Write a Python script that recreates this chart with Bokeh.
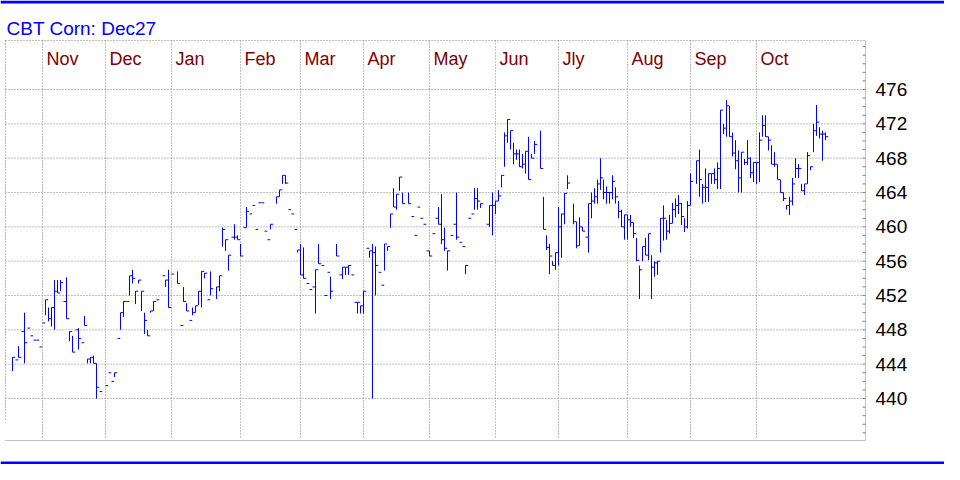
from bokeh.plotting import figure
from bokeh.models import Range1d
from bokeh.embed import file_html
from bokeh.resources import INLINE
from bokeh.core.properties import value

title_text = "CBT Corn: Dec27"
month_labels = ["Nov", "Dec", "Jan", "Feb", "Mar", "Apr", "May", "Jun", "Jly", "Aug", "Sep", "Oct"]
month_start_index = [10, 31, 53, 76, 96, 117, 139, 161, 182, 205, 226, 248]
price_ticks = [440, 444, 448, 452, 456, 460, 464, 468, 472, 476]
minor_price_ticks = list(range(436, 482))

# trading-day index, high, low, close (flat bars have high == low == close)
bar_index = [0, 1, 2, 3, 4, 5, 6, 7, 8, 9, 10, 11, 12, 13, 14, 15, 16, 17, 18, 19,
             20, 21, 22, 23, 24, 25, 26, 27, 28, 29, 31, 32, 33, 34, 35, 36, 37, 38, 39, 40,
             41, 42, 43, 44, 45, 46, 47, 48, 50, 51, 52, 53, 55, 56, 57, 58, 59, 60, 61, 62,
             63, 64, 65, 66, 68, 69, 70, 71, 72, 73, 74, 75, 76, 77, 78, 79, 80, 81, 82, 83,
             84, 85, 86, 88, 89, 90, 91, 92, 93, 94, 95, 96, 97, 98, 99, 100, 101, 102, 103, 104,
             105, 106, 108, 109, 110, 111, 112, 113, 114, 115, 116, 117, 118, 119, 120, 121, 122, 123, 124, 125,
             126, 127, 128, 129, 130, 132, 133, 134, 135, 136, 137, 138, 139, 140, 141, 142, 143, 144, 145, 146,
             147, 148, 149, 150, 151, 152, 153, 154, 155, 156, 158, 159, 160, 161, 162, 163, 164, 165, 166, 167,
             168, 169, 170, 171, 172, 173, 174, 176, 177, 178, 179, 180, 181, 182, 183, 184, 185, 187, 188, 189,
             190, 191, 192, 193, 194, 195, 196, 197, 198, 199, 200, 201, 202, 203, 204, 205, 206, 207, 208, 209,
             210, 211, 212, 213, 214, 215, 216, 217, 218, 219, 220, 221, 222, 223, 224, 225, 226, 228, 229, 230,
             231, 232, 233, 234, 235, 236, 237, 238, 239, 240, 241, 242, 243, 244, 245, 246, 247, 248, 249, 250,
             251, 252, 253, 254, 255, 256, 257, 258, 259, 260, 261, 262, 263, 264, 265, 266, 267, 268, 269, 270,
             271]
bar_high = [444.8, 444.5, 446.1, 447.8, 450.0, 448.2, 447.3, 446.8, 446.8, 446.0, 448.8, 451.5, 450.6, 450.6, 453.8, 453.8, 453.8, 451.3, 454.1, 447.8,
            447.3, 448.0, 448.2, 446.5, 449.6, 444.6, 444.8, 445.0, 444.1, 440.8, 441.5, 443.0, 442.0, 443.0, 447.0, 450.0, 451.3, 451.3, 454.3, 455.0,
            452.5, 453.8, 452.5, 450.0, 448.0, 450.2, 451.3, 451.5, 454.3, 453.8, 455.0, 454.5, 454.8, 448.5, 453.0, 451.1, 449.1, 450.6, 450.8, 452.5,
            454.8, 454.6, 451.5, 454.8, 453.0, 454.3, 459.9, 458.5, 456.7, 458.8, 460.3, 459.0, 458.0, 459.9, 462.3, 461.5, 462.5, 459.7, 462.8, 462.8,
            459.5, 458.5, 460.3, 463.5, 464.3, 466.0, 466.0, 462.0, 461.5, 459.7, 457.3, 458.0, 457.6, 453.4, 452.7, 453.0, 455.0, 458.0, 455.5, 452.0,
            454.7, 454.2, 458.0, 454.4, 455.3, 455.3, 455.5, 454.4, 451.2, 451.2, 450.8, 452.5, 457.5, 457.2, 458.0, 457.7, 454.7, 453.2, 458.0, 457.7,
            461.5, 464.5, 463.8, 465.8, 464.0, 464.0, 461.2, 459.0, 462.3, 461.0, 460.3, 457.2, 457.2, 459.2, 461.0, 462.3, 463.8, 459.9, 457.2, 459.0,
            460.3, 464.0, 458.2, 457.7, 455.5, 461.0, 461.5, 464.5, 464.5, 462.7, 460.3, 462.5, 464.0, 463.0, 464.3, 466.0, 471.0, 472.5, 471.2, 469.8,
            469.0, 469.0, 468.5, 468.8, 470.5, 468.5, 470.0, 471.2, 463.5, 459.0, 458.0, 456.0, 457.0, 462.3, 461.5, 463.9, 466.0, 462.7, 460.6, 461.1,
            460.0, 458.8, 462.7, 464.0, 464.5, 465.5, 468.0, 465.5, 464.7, 464.0, 466.0, 464.6, 463.0, 462.0, 461.4, 461.4, 461.4, 460.5, 458.7, 455.5,
            457.7, 458.7, 459.2, 456.7, 456.0, 456.0, 461.0, 462.5, 460.8, 461.4, 462.8, 463.3, 463.7, 462.8, 461.0, 463.0, 466.2, 467.7, 469.0, 465.0,
            466.8, 466.2, 466.2, 466.8, 467.5, 473.6, 472.0, 474.8, 474.1, 471.0, 470.1, 468.9, 468.7, 467.9, 470.1, 468.1, 467.5, 467.5, 471.0, 473.0,
            473.0, 470.5, 469.5, 468.7, 467.3, 465.5, 464.0, 462.5, 463.5, 465.7, 468.0, 467.3, 465.0, 465.0, 468.7, 467.0, 472.0, 474.2, 471.6, 471.2,
            471.0]
bar_low = [443.2, 444.5, 444.8, 447.8, 444.1, 448.2, 447.3, 446.8, 446.8, 446.0, 448.8, 449.7, 449.0, 448.4, 448.0, 452.3, 452.5, 451.3, 449.3, 446.7,
           445.4, 448.0, 445.7, 446.5, 448.5, 444.1, 444.1, 444.1, 440.0, 440.8, 441.5, 443.0, 442.0, 442.5, 447.0, 448.0, 449.5, 451.3, 452.0, 453.4,
           451.0, 453.4, 450.2, 447.5, 447.3, 450.0, 450.2, 451.5, 454.3, 453.0, 450.6, 454.5, 453.4, 448.5, 451.3, 450.2, 449.1, 449.7, 450.0, 450.9,
           450.6, 454.0, 451.5, 452.0, 451.6, 452.5, 457.7, 457.2, 454.9, 458.8, 458.5, 458.5, 456.6, 459.9, 459.9, 461.5, 462.5, 459.7, 462.8, 462.8,
           459.5, 458.5, 459.7, 462.7, 463.5, 465.0, 465.0, 462.0, 461.5, 459.7, 457.0, 454.4, 454.0, 453.4, 452.7, 453.0, 449.9, 455.7, 455.5, 452.0,
           454.7, 451.6, 456.6, 454.4, 453.9, 454.4, 454.4, 454.4, 451.2, 449.9, 449.9, 449.9, 457.5, 456.4, 440.0, 452.0, 454.7, 453.2, 454.9, 457.2,
           459.9, 462.3, 462.0, 464.2, 462.7, 462.7, 461.2, 459.0, 462.3, 461.0, 460.3, 457.2, 456.6, 459.2, 461.0, 460.3, 458.0, 457.2, 454.9, 459.0,
           460.3, 458.5, 458.2, 457.7, 454.5, 461.0, 461.5, 462.0, 462.0, 462.2, 460.3, 460.0, 459.0, 461.5, 463.0, 464.6, 467.0, 469.8, 469.0, 467.3,
           467.8, 467.0, 466.8, 466.2, 465.5, 468.0, 468.5, 466.8, 459.7, 457.3, 454.5, 455.5, 455.0, 455.5, 456.4, 460.3, 464.4, 460.3, 457.5, 457.8,
           459.5, 458.8, 457.0, 461.0, 462.7, 462.7, 464.3, 463.2, 462.7, 462.7, 463.2, 462.7, 461.0, 460.0, 458.5, 458.5, 460.0, 458.7, 456.0, 451.6,
           456.0, 456.7, 456.1, 451.6, 454.2, 454.4, 457.0, 458.4, 458.5, 459.2, 460.4, 461.1, 461.5, 460.2, 459.4, 459.8, 462.5, 465.0, 463.5, 462.7,
           462.9, 462.9, 465.0, 465.0, 464.4, 464.4, 470.8, 470.5, 470.5, 468.2, 466.7, 464.0, 464.0, 467.2, 467.2, 465.7, 465.2, 465.0, 465.2, 470.5,
           470.5, 468.9, 467.3, 467.0, 465.5, 464.0, 463.0, 462.0, 461.4, 462.5, 465.7, 465.7, 464.2, 463.7, 465.0, 466.6, 468.7, 470.6, 470.3, 467.7,
           470.1]
bar_close = [444.8, 444.5, 444.8, 447.8, 446.5, 448.2, 447.3, 446.8, 446.8, 446.0, 448.8, 451.5, 449.3, 450.6, 452.5, 452.3, 453.5, 451.3, 449.3, 447.8,
             445.4, 448.0, 447.0, 446.5, 448.5, 444.6, 444.8, 444.1, 441.3, 440.8, 441.5, 443.0, 442.0, 443.0, 447.0, 450.0, 451.3, 451.3, 454.3, 454.0,
             452.5, 453.8, 452.5, 449.1, 447.3, 450.2, 451.3, 451.5, 454.3, 453.8, 450.6, 454.5, 453.4, 448.5, 451.3, 450.2, 449.1, 450.0, 450.8, 452.5,
             454.8, 454.6, 451.5, 452.8, 453.0, 454.3, 459.7, 458.5, 456.7, 458.8, 458.8, 458.5, 456.6, 459.9, 461.8, 461.5, 462.5, 459.7, 462.8, 462.8,
             459.5, 458.5, 460.3, 463.5, 464.3, 466.0, 465.1, 462.0, 461.5, 459.7, 457.3, 454.4, 454.0, 453.4, 452.7, 453.0, 455.0, 455.7, 455.5, 452.0,
             454.7, 452.5, 456.6, 454.4, 455.3, 455.3, 455.5, 454.4, 451.2, 451.2, 450.8, 452.5, 457.5, 457.2, 457.0, 455.5, 454.7, 453.2, 458.0, 457.7,
             461.5, 462.3, 463.8, 465.8, 462.7, 462.7, 461.2, 459.0, 462.3, 461.0, 460.3, 457.2, 456.6, 459.2, 461.0, 460.3, 458.5, 457.5, 457.2, 459.0,
             460.3, 458.8, 458.2, 457.7, 455.5, 461.0, 461.5, 463.3, 463.0, 462.7, 460.3, 462.5, 462.5, 463.0, 463.6, 466.0, 470.6, 472.5, 471.2, 468.5,
             468.5, 467.0, 467.3, 468.8, 465.5, 468.0, 469.6, 466.8, 459.7, 457.6, 456.6, 455.5, 457.0, 460.0, 461.5, 463.9, 465.1, 460.6, 457.8, 460.0,
             459.5, 458.8, 462.7, 463.0, 463.5, 465.0, 465.7, 464.0, 464.0, 464.0, 465.3, 463.5, 461.8, 460.0, 461.4, 460.8, 460.5, 459.2, 456.1, 455.0,
             457.7, 456.7, 459.2, 455.3, 455.8, 456.0, 461.0, 461.0, 459.5, 460.4, 462.0, 462.5, 462.7, 461.2, 460.0, 462.5, 465.3, 467.7, 465.5, 464.6,
             464.6, 466.2, 466.2, 465.5, 466.8, 473.6, 471.5, 474.1, 470.5, 468.6, 467.7, 465.7, 468.7, 467.5, 468.0, 466.3, 467.5, 467.5, 470.1, 471.8,
             470.5, 470.1, 467.3, 467.3, 465.5, 464.0, 463.3, 462.5, 463.0, 465.0, 466.8, 466.8, 464.2, 465.0, 468.3, 467.0, 471.2, 472.2, 470.8, 470.8,
             470.5]

# ---------------- layout (pixels) ----------------
W, H = 944, 464
X0_PX, X_STEP = 12.0, 3.0            # pixel of day 0, pixels per trading day
PY_LO, PY_HI = 398.0, 89.0           # pixel rows of 440 and 476
P_LO, P_HI = 440.0, 476.0
PX_PER_UNIT = (PY_LO - PY_HI) / (P_HI - P_LO)
FRAME_L, FRAME_R, FRAME_T, FRAME_B = 5.0, 865.0, 40.0, 440.0


def xd(px):   # pixel column -> data x
    return (px - X0_PX) / X_STEP


def yd(py):   # pixel row -> data y
    return P_LO + (PY_LO - py) / PX_PER_UNIT


x_start, x_end = xd(0), xd(W)
y_start, y_end = yd(H), yd(0)

p = figure(width=W, height=H, output_backend="svg", toolbar_location=None,
           x_range=Range1d(x_start, x_end), y_range=Range1d(y_start, y_end),
           x_axis_location=None, y_axis_location=None,
           min_border=0, min_border_left=0, min_border_right=0,
           min_border_top=0, min_border_bottom=0)
p.outline_line_color = None
p.background_fill_color = "white"
p.border_fill_color = "white"
for g in p.grid:
    g.visible = False

grid_color = "#808080"
frame_color = "#c0c0c0"
blue = "#0000FF"
font = value("Liberation Sans")

# blue rules at top and bottom of the page
p.quad(left=[x_start, x_start], right=[x_end, x_end],
       bottom=[yd(3), y_start], top=[y_end, yd(H - 3)],
       fill_color=blue, line_color=None)

# title
p.text(x=[xd(6)], y=[yd(27.5)], text=[title_text], text_font=font, text_font_size="19px",
       text_color=blue, text_baseline="alphabetic", text_align="left")

# dotted grid: horizontal at price ticks, vertical at month starts, plus top/left border
h_y = price_ticks
p.segment(x0=[xd(FRAME_L)] * len(h_y), y0=h_y, x1=[xd(FRAME_R - 3)] * len(h_y), y1=h_y,
          line_color=grid_color, line_dash="1 2", line_width=1)
p.segment(x0=[xd(FRAME_L)], y0=[yd(FRAME_T)], x1=[xd(FRAME_R)], y1=[yd(FRAME_T)],
          line_color=grid_color, line_dash="1 2", line_width=1)
p.segment(x0=month_start_index, y0=[yd(FRAME_T)] * len(month_start_index),
          x1=month_start_index, y1=[yd(FRAME_B - 3)] * len(month_start_index),
          line_color=grid_color, line_dash="1 2", line_width=1)
p.segment(x0=[xd(FRAME_L)], y0=[yd(FRAME_T)], x1=[xd(FRAME_L)], y1=[yd(FRAME_B - 20)],
          line_color=grid_color, line_dash="1 2", line_width=1)

# solid frame: bottom and right (price axis line)
p.segment(x0=[xd(FRAME_L - 0.5), xd(FRAME_R)], y0=[yd(FRAME_B), yd(FRAME_T)],
          x1=[xd(FRAME_R), xd(FRAME_R)], y1=[yd(FRAME_B), yd(FRAME_B)],
          line_color=frame_color, line_width=1)

# price axis ticks (inside) and labels
p.segment(x0=[xd(FRAME_R - 3)] * len(minor_price_ticks), y0=minor_price_ticks,
          x1=[xd(FRAME_R)] * len(minor_price_ticks), y1=minor_price_ticks,
          line_color=grid_color, line_width=1)
p.text(x=[xd(875)] * len(price_ticks), y=price_ticks, text=[str(t) for t in price_ticks],
       text_font=font, text_font_size="19px", text_color="black",
       text_baseline="middle", text_align="left")

# month labels
p.text(x=month_start_index, y=[yd(58.5)] * len(month_start_index), text=month_labels,
       x_offset=4, text_font=font, text_font_size="18px", text_color="#800000",
       text_baseline="alphabetic", text_align="left")

# bars: high-low line with close tick to the right
p.segment(x0=bar_index, y0=bar_low, x1=bar_index, y1=bar_high, line_color=blue, line_width=1)
tick_end = [i + 0.9 for i in bar_index]
p.segment(x0=bar_index, y0=bar_close, x1=tick_end, y1=bar_close, line_color=blue, line_width=1)

open("out.html", "w").write(file_html(p, INLINE))
